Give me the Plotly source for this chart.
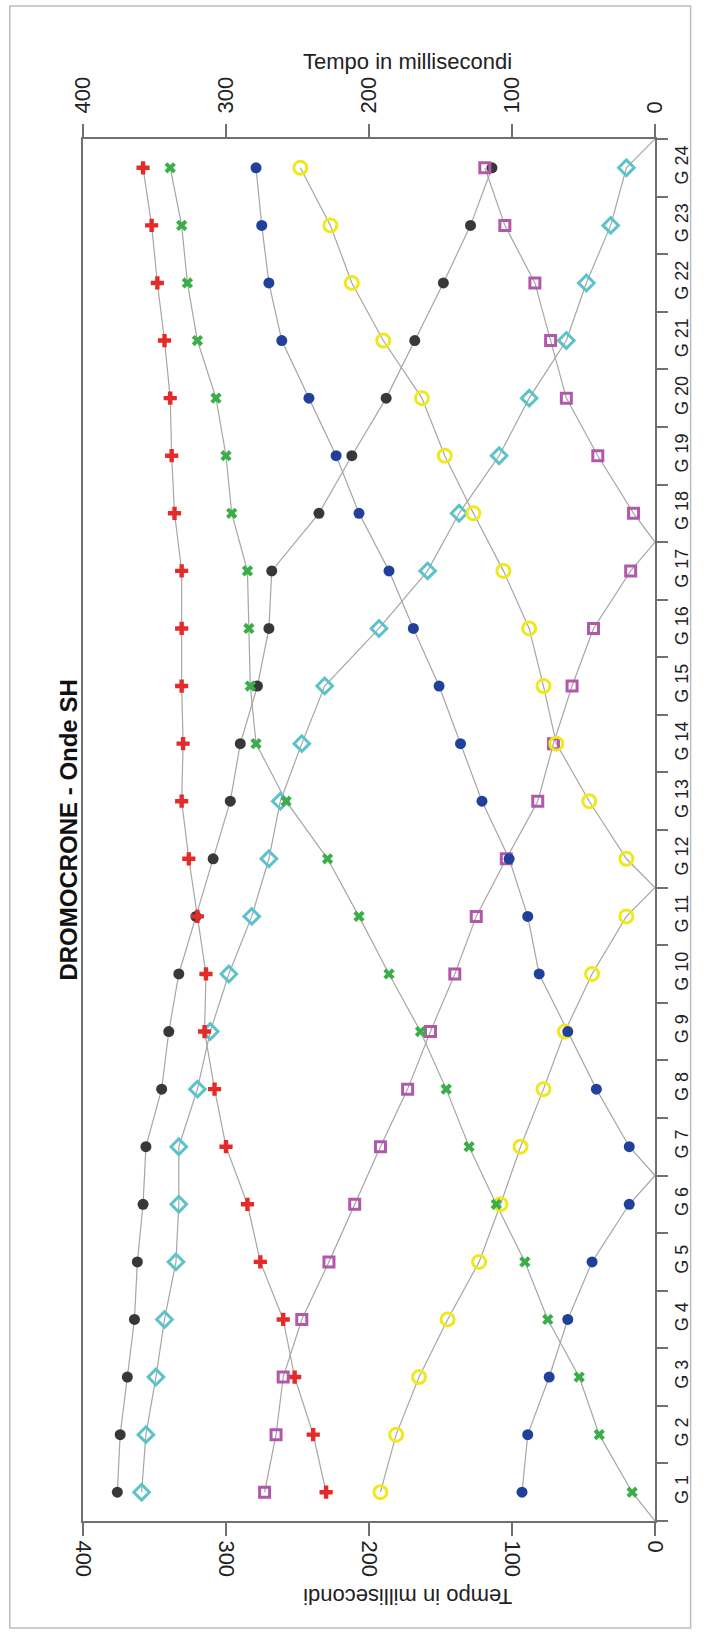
import plotly.graph_objects as go

# Geophone stations
stations = [f"G {i}" for i in range(1, 25)]
station_pos = [i - 0.5 for i in range(1, 25)]

# First-arrival times (ms) for each shot
t_black = [376, 374, 369, 364, 362, 358, 356, 345, 340, 333, 321, 309,
           297, 290, 278, 270, 268, 235, 212, 188, 168, 148, 129, 114]
t_cyan = [359, 356, 349, 343, 335, 333, 333, 320, 311, 298, 282, 270,
          262, 247, 231, 193, 159, 137, 109, 88, 62, 48, 31, 20]
t_red = [230, 239, 252, 260, 276, 285, 300, 308, 315, 314, 320, 326,
         331, 330, 331, 331, 331, 336, 338, 339, 343, 348, 352, 358]
t_purple = [273, 265, 260, 247, 228, 210, 192, 173, 157, 140, 125, 104,
            82, 71, 58, 43, 17, 15, 40, 62, 73, 84, 105, 119]
t_yellow = [192, 181, 165, 145, 123, 108, 94, 78, 63, 44, 20, 20,
            46, 69, 78, 88, 106, 127, 147, 163, 190, 212, 227, 248]
t_blue = [93, 89, 74, 61, 44, 18, 18, 41, 61, 81, 89, 102,
          121, 136, 151, 169, 186, 207, 223, 242, 261, 270, 275, 279]
t_green = [16, 39, 53, 75, 91, 111, 130, 146, 164, 186, 207, 229,
           258, 279, 283, 284, 285, 296, 300, 307, 320, 327, 331, 339]

# Shot positions along the spread (zero travel time), None = off-end shot
shot_black = None
shot_cyan = 24
shot_red = None
shot_purple = 17
shot_yellow = 11
shot_blue = 6
shot_green = 0

value_ticks = [0, 100, 200, 300, 400]
boundary_ticks = list(range(0, 25))

series = [
    (t_black, shot_black, dict(symbol="circle", size=11, color="#383838")),
    (t_cyan, shot_cyan, dict(symbol="diamond-open", size=12, color="#5cc3cb",
                             line=dict(width=3, color="#5cc3cb"))),
    (t_red, shot_red, dict(symbol="cross", size=11, color="#e52a2a")),
    (t_purple, shot_purple, dict(symbol="square-open", size=10, color="#b258aa",
                                 line=dict(width=3, color="#b258aa"))),
    (t_yellow, shot_yellow, dict(symbol="circle-open", size=13, color="#eee81c",
                                 line=dict(width=3, color="#eee81c"))),
    (t_blue, shot_blue, dict(symbol="circle", size=11, color="#21409a")),
    (t_green, shot_green, dict(symbol="x", size=10, color="#3aae48")),
]

fig = go.Figure()

# Connecting lines (including the zero-time point at the shot)
for times, shot, _ in series:
    pts = list(zip(station_pos, times))
    if shot is not None:
        pts.append((shot, 0))
        pts.sort(key=lambda p: p[0])
    fig.add_trace(go.Scatter(
        x=[p[1] for p in pts], y=[p[0] for p in pts], mode="lines",
        line=dict(color="#a6a6a6", width=1.2), showlegend=False, hoverinfo="skip"))

# Markers
for times, shot, mk in series:
    fig.add_trace(go.Scatter(
        x=times, y=station_pos, mode="markers", marker=mk, showlegend=False))

# Dummy trace to bring up the secondary axes
fig.add_trace(go.Scatter(x=[None], y=[None], xaxis="x2", yaxis="y3",
                         showlegend=False, hoverinfo="skip"))

FONT = "Arial, Liberation Sans, sans-serif"
axis_col = "#707070"

fig.update_layout(
    width=704, height=1632,
    margin=dict(l=83, r=43, t=139, b=111),
    paper_bgcolor="white", plot_bgcolor="white",
    font=dict(family=FONT, color="#222"),
    xaxis=dict(range=[400, 0], tickvals=value_ticks, ticks="outside", ticklen=13,
               tickwidth=1.5, tickcolor=axis_col, tickangle=90,
               tickfont=dict(size=22, color="#222"), showline=True,
               linecolor=axis_col, linewidth=2, showgrid=False, zeroline=False),
    xaxis2=dict(range=[400, 0], matches="x", overlaying="x", side="top", anchor="y",
                tickvals=value_ticks, ticks="outside", ticklen=13, tickwidth=1.5,
                tickcolor=axis_col, tickangle=-90, ticklabelstandoff=6,
                tickfont=dict(size=22, color="#222"), showline=True,
                linecolor=axis_col, linewidth=2, showgrid=False, zeroline=False),
    yaxis=dict(range=[0, 24], tickvals=boundary_ticks, ticks="outside", ticklen=11,
               tickwidth=1.5, tickcolor=axis_col, showticklabels=False, side="right",
               showline=True, mirror=True, linecolor=axis_col, linewidth=2,
               showgrid=False, zeroline=False),
    yaxis3=dict(range=[0, 24], matches="y", overlaying="y", side="right", anchor="x",
                tickvals=station_pos, ticktext=stations, ticks="", tickangle=-90,
                ticklabelstandoff=14, tickfont=dict(size=18, color="#222"),
                showline=False, showgrid=False, zeroline=False),
)

# Chart title and axis titles
fig.add_annotation(text="<b>DROMOCRONE - Onde SH</b>", xref="paper", yref="paper",
                   x=-0.054, y=0.5, textangle=-90, showarrow=False,
                   font=dict(size=24, family=FONT, color="#111"))
fig.add_annotation(text="Tempo in millisecondi", xref="paper", yref="paper",
                   x=0.5675, y=1.0665, showarrow=False,
                   font=dict(size=22, family=FONT, color="#222"))
fig.add_annotation(text="Tempo in millisecondi", xref="paper", yref="paper",
                   x=0.5675, y=-0.0651, textangle=180, showarrow=False,
                   font=dict(size=22, family=FONT, color="#222"))

# Outer frame
fig.add_shape(type="rect", xref="paper", yref="paper",
              x0=-0.128, x1=1.0623, y0=-0.0774, y1=1.0962,
              line=dict(color="#bdbdbd", width=1.5), layer="below")

fig.write_html("out.html")
